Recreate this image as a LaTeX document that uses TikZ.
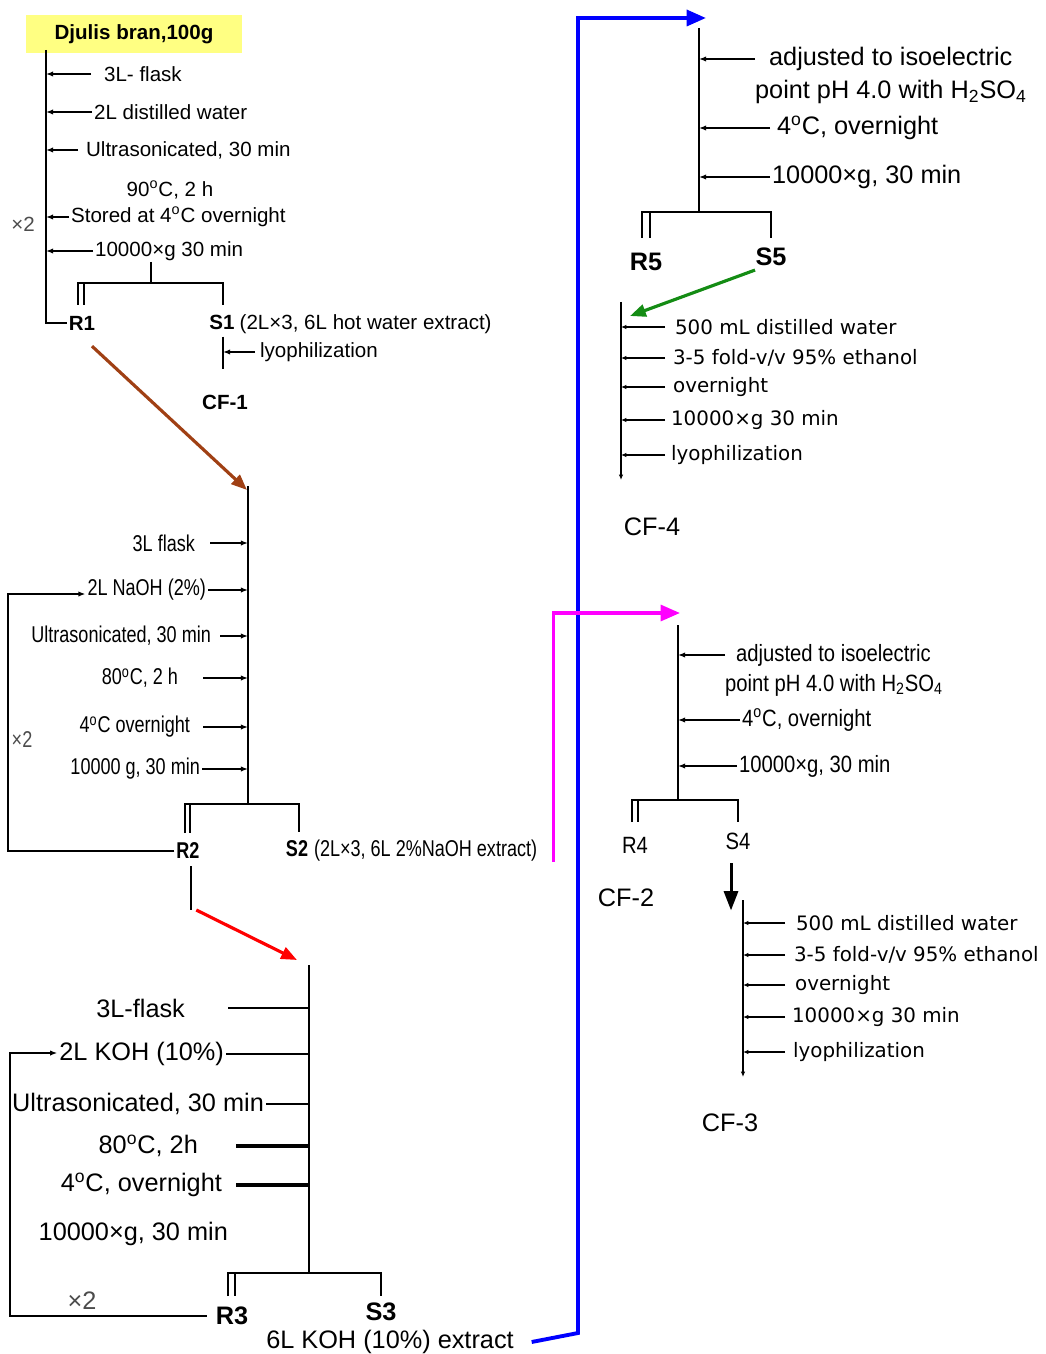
\documentclass[tikz,border=0pt]{standalone}
\usepackage{fontspec}
\setmainfont{Liberation Sans}
\newfontfamily\condfont[FakeStretch=0.79]{Liberation Sans}
\newfontfamily\semicondfont[FakeStretch=0.86]{Liberation Sans}
\newfontfamily\widefont{DejaVu Sans}
\usetikzlibrary{arrows.meta,positioning,calc}
\definecolor{branyellow}{RGB}{255,255,130}
\definecolor{rustbrown}{RGB}{160,64,20}
\definecolor{leafgreen}{RGB}{20,140,20}
\definecolor{hotpink}{RGB}{255,0,255}
\newcommand{\degs}{\textsuperscript{o}}

\begin{document}
\begin{tikzpicture}[
    x=0.02cm, y=-0.02cm,
    lbl/.style={inner sep=1pt, anchor=west},
    lblr/.style={inner sep=1pt, anchor=east},
    txtA/.style={inner sep=1pt, font=\fontsize{11.7}{13}\selectfont},
    boldA/.style={inner sep=1pt, font=\fontsize{11.7}{13}\selectfont\bfseries},
    txtB/.style={inner sep=1pt, font=\condfont\fontsize{13}{14}\selectfont},
    boldB/.style={inner sep=1pt, font=\condfont\fontsize{13}{14}\selectfont\bfseries},
    txtC/.style={inner sep=1pt, font=\fontsize{14.4}{16}\selectfont},
    boldC/.style={inner sep=1pt, font=\fontsize{14.4}{16}\selectfont\bfseries},
    txtE/.style={inner sep=1pt, font=\semicondfont\fontsize{13.4}{15}\selectfont},
    txtW/.style={inner sep=1pt, font=\widefont\fontsize{11.3}{13}\selectfont},
    trunk/.style={line width=1.6pt},
    twig/.style={line width=1.1pt},
    hair/.style={line width=0.7pt},
    feed/.style={-{Latex[length=4pt,width=3pt]}, line width=0.9pt},
    hairfeed/.style={-{Latex[length=3pt,width=2.5pt]}, line width=0.7pt},
    colarr/.style={-{Triangle[length=9pt,width=7pt]}, line width=1.8pt},
    longarr/.style={-{Triangle[length=11pt,width=9pt]}, line width=2.2pt},
    bigarr/.style={-{Triangle[length=11pt,width=8pt]}, line width=1.7pt},
]
\useasboundingbox (0,0) rectangle (1045,1354);

% hot water extraction
\node[boldA, fill=branyellow, minimum width=4.34cm, minimum height=0.76cm] (bran) at (134,34) {Djulis bran,100g};
\coordinate (a0) at (46,50);
\node[boldA] (r1) at (82,323) {R1};
\draw[trunk] (a0) |- (r1.west);
\node[txtA, lbl] (a1) at (102,74) {3L- flask};
\node[txtA, lbl] (a2) at (92,112) {2L distilled water};
\node[txtA, lbl] (a3) at (84,150) {Ultrasonicated, 30 min};
\node[txtA] (a4) at (170,190) {90\degs C, 2 h};
\node[txtA, lbl] (a5) at (69,217) {Stored at 4\degs C overnight};
\node[txtA, lbl] (a6) at (93,251) {10000×g 30 min};
\node[txtA, text=black!70] (ax2) at (23,224) {×2};
\foreach \n/\g in {a1/11, a2/0, a3/6, a5/0, a6/0}
  \draw[feed] ([xshift=-\g*0.02cm]\n.west) -- (\n.west -| a0);
\node[boldA] (s1) at (222,322) {S1};
\node[txtA, anchor=base west] (s1x) at ([xshift=0.5pt]s1.base east) {(2L×3, 6L hot water extract)};
\draw[trunk] (151,262) -- (151,283);
\draw[trunk] (78,305) |- (223,283) -- (223,305);
\draw[trunk] (84,283) -- (84,305);
\coordinate (s1b) at (223,369);
\draw[trunk] ([yshift=-3pt]s1b |- s1.south) -- (s1b);
\node[txtA, lbl] (a7) at (258,352) {lyophilization};
\draw[feed] ([xshift=-3*0.02cm]a7.west) -- (a7.west -| s1b);
\node[boldA] (cf1) at (225,402) {CF-1};

% NaOH extraction
\coordinate (b0) at (248,486);
\coordinate (bj) at (248,804);
\draw[colarr, rustbrown] ([shift={(10,14)}]r1.south) -- ([shift={(-1,4)}]b0);
\draw[twig] (b0) -- (bj);
\node[txtB, lblr] (b1) at (197,543) {3L flask};
\node[txtB, lblr] (b2) at (208,590) {2L NaOH (2\%)};
\node[txtB, lblr] (b3) at (213,636) {Ultrasonicated, 30 min};
\node[txtB, lblr] (b4) at (180,678) {80\degs C, 2 h};
\node[txtB, lblr] (b5) at (192,727) {4\degs C overnight};
\node[txtB, lblr] (b6) at (202,769) {10000 g, 30 min};
\foreach \n/\g in {b1/13, b2/0, b3/7, b4/23, b5/11, b6/0}
  \draw[feed] ([xshift=\g*0.02cm]\n.east) -- (\n.east -| b0);
\draw[twig] (185,833) |- (299,804) -- (299,832);
\draw[twig] (190,804) -- (190,833);
\node[boldB] (r2) at (188,851) {R2};
\node[boldB] (s2) at (297,849) {S2};
\node[txtB, anchor=base west] (s2x) at ([xshift=1pt]s2.base east) {(2L×3, 6L 2\%NaOH extract)};
\coordinate (bloop) at (8,594);
\draw[feed, line width=1.1pt] (r2.west) -| (bloop) -- (bloop -| b2.west);
\node[txtB, text=black!70] (bx2) at (22,740) {×2};
\coordinate (r2b) at (191,910);
\draw[twig] ([yshift=-3pt]r2b |- r2.south) -- (r2b);

% KOH extraction
\coordinate (c0) at (309,965);
\coordinate (cj) at (309,1273);
\draw[colarr, red] ([xshift=3pt]r2b) -- ([shift={(-12,-5)}]c0);
\draw[trunk] (c0) -- (cj);
\node[txtC, lblr] (c1) at (187,1008) {3L-flask};
\node[txtC, lblr] (c2) at (226,1054) {2L KOH (10\%)};
\node[txtC, lblr] (c3) at (266,1104) {Ultrasonicated, 30 min};
\node[txtC, lblr] (c4) at (200,1146) {80\degs C, 2h};
\node[txtC, lblr] (c5) at (224,1185) {4\degs C, overnight};
\node[txtC, lblr] (c6) at (230,1234) {10000×g, 30 min};
\foreach \n/\g in {c1/41, c2/0, c3/0}
  \draw[twig] ([xshift=\g*0.02cm]\n.east) -- (\n.east -| c0);
\foreach \n/\g in {c4/36, c5/12}
  \draw[line width=2.2pt] ([xshift=\g*0.02cm]\n.east) -- (\n.east -| c0);
\draw[trunk] (228,1296) |- (381,1273) -- (381,1296);
\draw[trunk] (235,1273) -- (235,1296);
\node[boldC] (r3) at (232,1316) {R3};
\node[boldC] (s3) at (381,1312) {S3};
\node[txtC] (s3x) at (390,1342) {6L KOH (10\%) extract};
\coordinate (cloop) at (10,1053);
\draw[feed, line width=1.4pt] ([xshift=-4pt]r3.west) -| (cloop) -- (cloop -| c2.west);
\node[txtC, text=black!70] (cx2) at (82,1301) {×2};

% transfers to the right column
\coordinate (bluebend) at (578,1333);
\coordinate (dtip) at (706,18);
\draw[longarr, blue] ([xshift=9pt]s3x.east) -- (bluebend) |- (dtip);
\coordinate (mtip) at (680,613);
\draw[longarr, hotpink, line width=2pt] ([shift={(14,11)}]s2x.east) |- (mtip);

% acid precipitation of S3
\coordinate (d0) at (699,28);
\coordinate (dj) at (699,212);
\draw[trunk] (d0) -- (dj);
\node[txtC, lbl] (d1) at (767,59) {adjusted to isoelectric};
\node[txtC, lbl] (d1b) at (753,92) {point pH 4.0 with H\textsubscript{2}SO\textsubscript{4}};
\node[txtC, lbl] (d2) at (775,128) {4\degs C, overnight};
\node[txtC, lbl] (d3) at (770,177) {10000×g, 30 min};
\foreach \n/\g in {d1/12, d2/5, d3/0}
  \draw[feed] ([xshift=-\g*0.02cm]\n.west) -- (\n.west -| d0);
\draw[trunk] (642,238) |- (771,212) -- (771,238);
\draw[trunk] (650,212) -- (650,238);
\node[boldC] (r5) at (646,262) {R5};
\node[boldC] (s5) at (771,257) {S5};

% ethanol precipitation of S5
\coordinate (e0) at (621,302);
\coordinate (ej) at (621,480);
\draw[colarr, leafgreen] ([shift={(-16,2)}]s5.south) -- ([shift={(9,14)}]e0);
\draw[hairfeed] (e0) -- (ej);
\node[txtW, lbl] (e1) at (673,327) {500 mL distilled water};
\node[txtW, lbl] (e2) at (671,358) {3-5 fold-v/v 95\% ethanol};
\node[txtW, lbl] (e3) at (671,387) {overnight};
\node[txtW, lbl] (e4) at (669,420) {10000×g 30 min};
\node[txtW, lbl] (e5) at (669,455) {lyophilization};
\foreach \n/\g in {e1/8, e2/6, e3/6, e4/4, e5/4}
  \draw[hairfeed] ([xshift=-\g*0.02cm]\n.west) -- (\n.west -| e0);
\node[txtC] (cf4) at (652,527) {CF-4};

% acid precipitation of S2
\coordinate (f0) at (678,625);
\coordinate (fj) at (678,800);
\draw[twig] (f0) -- (fj);
\node[txtE, lbl] (f1) at (734,655) {adjusted to isoelectric};
\node[txtE, lbl] (f1b) at (723,685) {point pH 4.0 with H\textsubscript{2}SO\textsubscript{4}};
\node[txtE, lbl] (f2) at (740,720) {4\degs C, overnight};
\node[txtE, lbl] (f3) at (737,766) {10000×g, 30 min};
\foreach \n/\g in {f1/9, f2/0, f3/0}
  \draw[feed] ([xshift=-\g*0.02cm]\n.west) -- (\n.west -| f0);
\draw[twig] (632,822) |- (738,800) -- (738,822);
\draw[twig] (638,800) -- (638,822);
\node[txtE] (r4) at (635,845) {R4};
\node[txtE] (s4) at (738,841) {S4};
\node[txtC] (cf2) at (626,898) {CF-2};

% ethanol precipitation of S4
\coordinate (g0) at (743,900);
\coordinate (gj) at (743,1077);
\draw[bigarr] ([shift={(-7,12)}]s4.south) -- ++(0,47);
\draw[hairfeed] (g0) -- (gj);
\node[txtW, lbl] (g1) at (794,923) {500 mL distilled water};
\node[txtW, lbl] (g2) at (792,955) {3-5 fold-v/v 95\% ethanol};
\node[txtW, lbl] (g3) at (793,985) {overnight};
\node[txtW, lbl] (g4) at (790,1017) {10000×g 30 min};
\node[txtW, lbl] (g5) at (791,1052) {lyophilization};
\foreach \n/\g in {g1/9, g2/7, g3/8, g4/5, g5/6}
  \draw[hairfeed] ([xshift=-\g*0.02cm]\n.west) -- (\n.west -| g0);
\node[txtC] (cf3) at (730,1123) {CF-3};
\end{tikzpicture}
\end{document}
